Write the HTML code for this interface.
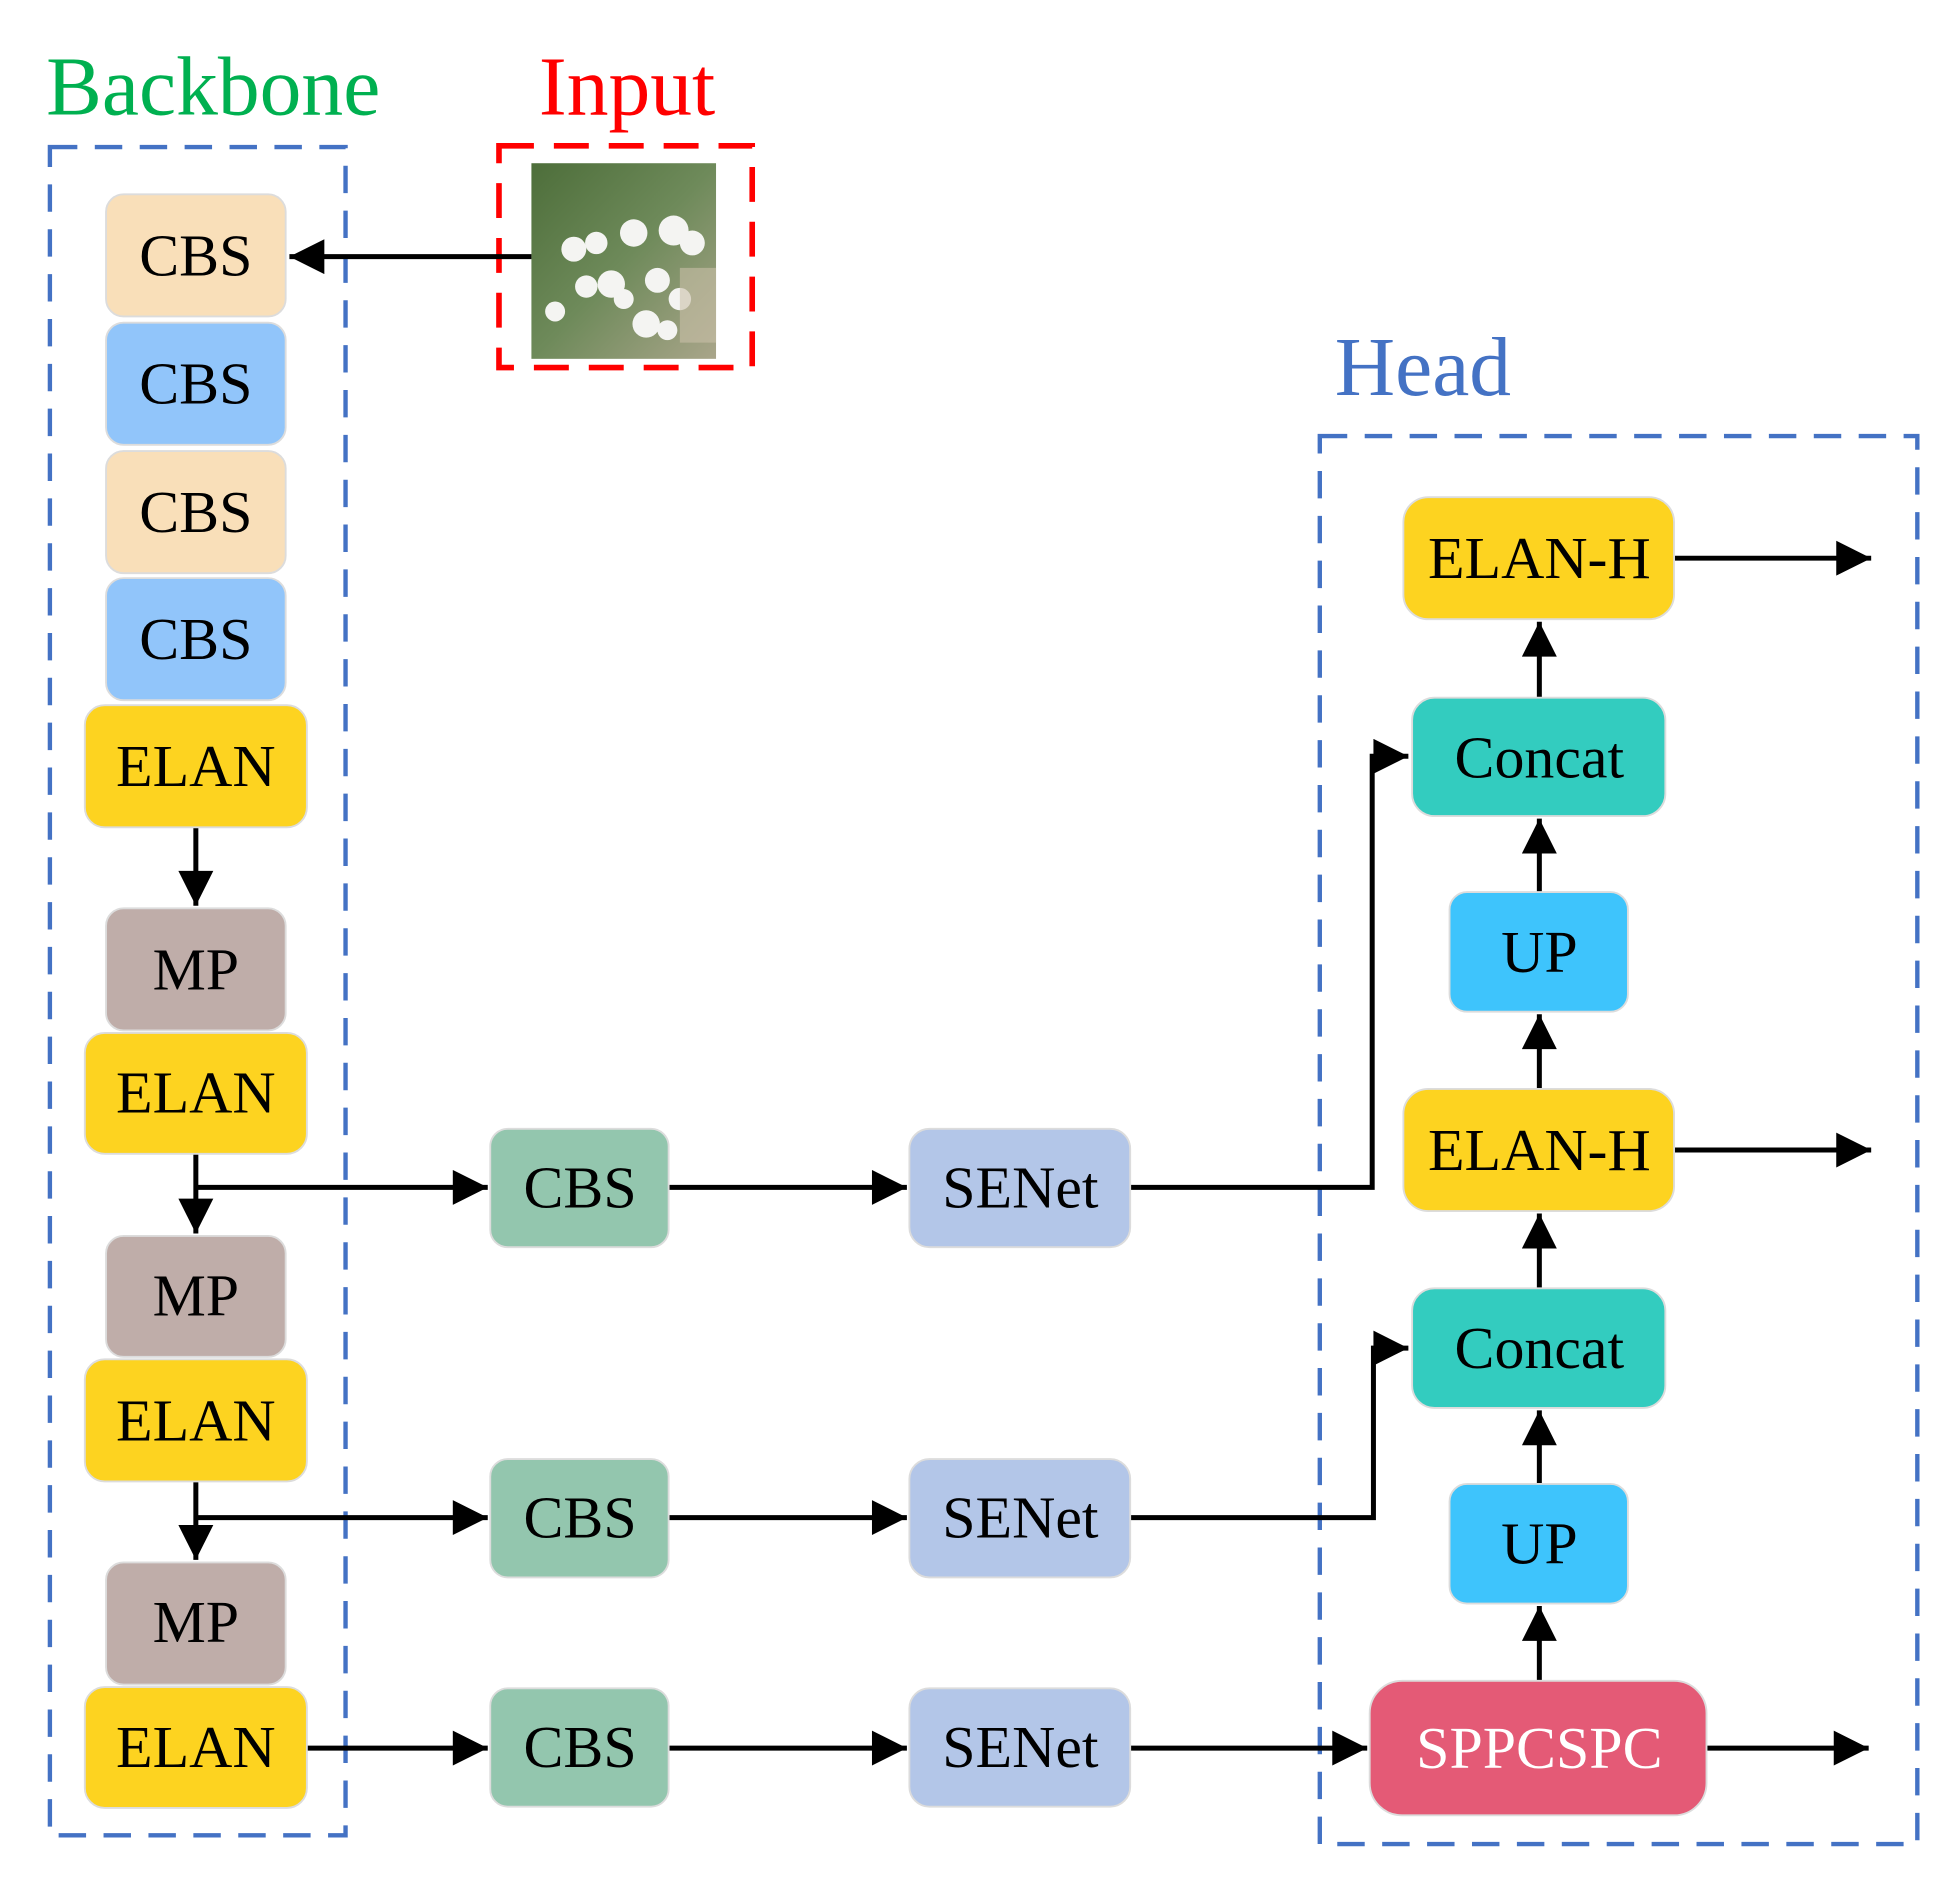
<!DOCTYPE html>
<html><head><meta charset="utf-8"><style>
html,body{margin:0;padding:0;background:#fff;}
svg{display:block;}
text{font-family:"Liberation Serif",serif;}
</style></head><body>
<svg width="1956" height="1887" viewBox="0 0 1568 1514.5" preserveAspectRatio="none" xmlns="http://www.w3.org/2000/svg">
<defs>
<marker id="a" viewBox="0 0 10 10" refX="10" refY="5" markerWidth="7.5" markerHeight="7" markerUnits="strokeWidth" orient="auto"><path d="M0,0 L10,5 L0,10 z" fill="#000"/></marker>
<linearGradient id="g1" x1="0" y1="0" x2="1" y2="1"><stop offset="0" stop-color="#4d6e3a"/><stop offset="0.5" stop-color="#6e8a5a"/><stop offset="1" stop-color="#a9a58a"/></linearGradient>
</defs>

<text x="37" y="92" font-size="67" fill="#00B050">Backbone</text>
<text x="432" y="92" font-size="67" fill="#FF0000">Input</text>
<text x="1070" y="317" font-size="67" fill="#4472C4">Head</text>

<rect x="40" y="118" width="237" height="1355" fill="none" stroke="#4472C4" stroke-width="3.5" stroke-dasharray="22,14"/>
<rect x="1058" y="350" width="479" height="1130" fill="none" stroke="#4472C4" stroke-width="3.5" stroke-dasharray="22,14"/>
<rect x="400" y="117" width="203" height="178" fill="none" stroke="#FF0000" stroke-width="4.5" stroke-dasharray="28,16"/>

<rect x="426" y="131" width="148" height="157" fill="url(#g1)"/>
<g fill="#f4f4f2">
<circle cx="460" cy="200" r="10"/><circle cx="478" cy="195" r="9"/><circle cx="508" cy="187" r="11"/>
<circle cx="540" cy="185" r="12"/><circle cx="555" cy="195" r="10"/><circle cx="470" cy="230" r="9"/>
<circle cx="490" cy="228" r="11"/><circle cx="500" cy="240" r="8"/><circle cx="527" cy="225" r="10"/>
<circle cx="518" cy="260" r="11"/><circle cx="545" cy="240" r="9"/><circle cx="445" cy="250" r="8"/>
<circle cx="535" cy="265" r="8"/>
</g>
<rect x="545" y="215" width="29" height="60" fill="#c9c0a8" opacity="0.6"/>

<g stroke="#000" stroke-width="4" fill="none">
<line x1="426" y1="206" x2="232" y2="206" marker-end="url(#a)"/>
<line x1="157" y1="664" x2="157" y2="727" marker-end="url(#a)"/>
<line x1="157" y1="926" x2="157" y2="990" marker-end="url(#a)"/>
<line x1="157" y1="1189" x2="157" y2="1252" marker-end="url(#a)"/>
<line x1="157" y1="953" x2="391" y2="953" marker-end="url(#a)"/>
<line x1="157" y1="1218" x2="391" y2="1218" marker-end="url(#a)"/>
<line x1="246" y1="1403" x2="391" y2="1403" marker-end="url(#a)"/>
<line x1="536" y1="953" x2="727" y2="953" marker-end="url(#a)"/>
<line x1="536" y1="1218" x2="727" y2="1218" marker-end="url(#a)"/>
<line x1="536" y1="1403" x2="727" y2="1403" marker-end="url(#a)"/>
<polyline points="906,953 1100,953 1100,607 1129,607" marker-end="url(#a)"/>
<polyline points="906,1218 1101,1218 1101,1082 1129,1082" marker-end="url(#a)"/>
<line x1="906" y1="1403" x2="1096" y2="1403" marker-end="url(#a)"/>
<line x1="1234" y1="1349" x2="1234" y2="1289" marker-end="url(#a)"/>
<line x1="1234" y1="1191" x2="1234" y2="1132" marker-end="url(#a)"/>
<line x1="1234" y1="1034" x2="1234" y2="974" marker-end="url(#a)"/>
<line x1="1234" y1="874" x2="1234" y2="814" marker-end="url(#a)"/>
<line x1="1234" y1="716" x2="1234" y2="657" marker-end="url(#a)"/>
<line x1="1234" y1="560" x2="1234" y2="499" marker-end="url(#a)"/>
<line x1="1342" y1="448" x2="1500" y2="448" marker-end="url(#a)"/>
<line x1="1342" y1="923" x2="1500" y2="923" marker-end="url(#a)"/>
<line x1="1368" y1="1403" x2="1498" y2="1403" marker-end="url(#a)"/>
</g>

<g stroke="#dcdcdc" stroke-width="1.5">
<rect x="85" y="156" width="144" height="98" rx="14" fill="#F9DFB9"/>
<rect x="85" y="259" width="144" height="98" rx="14" fill="#91C5FA"/>
<rect x="85" y="362" width="144" height="98" rx="14" fill="#F9DFB9"/>
<rect x="85" y="464" width="144" height="98" rx="14" fill="#91C5FA"/>
<rect x="68" y="566" width="178" height="98" rx="16" fill="#FDD320"/>
<rect x="85" y="729" width="144" height="98" rx="14" fill="#BFADA9"/>
<rect x="68" y="829" width="178" height="97" rx="16" fill="#FDD320"/>
<rect x="85" y="992" width="144" height="97" rx="14" fill="#BFADA9"/>
<rect x="68" y="1091" width="178" height="98" rx="16" fill="#FDD320"/>
<rect x="85" y="1254" width="144" height="98" rx="14" fill="#BFADA9"/>
<rect x="68" y="1354" width="178" height="97" rx="16" fill="#FDD320"/>

<rect x="393" y="906" width="143" height="95" rx="14" fill="#93C6AE"/>
<rect x="393" y="1171" width="143" height="95" rx="14" fill="#93C6AE"/>
<rect x="393" y="1355" width="143" height="95" rx="14" fill="#93C6AE"/>
<rect x="729" y="906" width="177" height="95" rx="16" fill="#B3C6E8"/>
<rect x="729" y="1171" width="177" height="95" rx="16" fill="#B3C6E8"/>
<rect x="729" y="1355" width="177" height="95" rx="16" fill="#B3C6E8"/>

<rect x="1125" y="399" width="217" height="98" rx="20" fill="#FDD320"/>
<rect x="1132" y="560" width="203" height="95" rx="18" fill="#33CCBF"/>
<rect x="1162" y="716" width="143" height="96" rx="14" fill="#3EC4FC"/>
<rect x="1125" y="874" width="217" height="98" rx="20" fill="#FDD320"/>
<rect x="1132" y="1034" width="203" height="96" rx="18" fill="#33CCBF"/>
<rect x="1162" y="1191" width="143" height="96" rx="14" fill="#3EC4FC"/>
<rect x="1098" y="1349" width="270" height="108" rx="26" fill="#E45A76"/>
</g>

<g font-size="48" text-anchor="middle" fill="#000">
<text x="157" y="221">CBS</text>
<text x="157" y="324">CBS</text>
<text x="157" y="427">CBS</text>
<text x="157" y="529">CBS</text>
<text x="157" y="631">ELAN</text>
<text x="157" y="794">MP</text>
<text x="157" y="893">ELAN</text>
<text x="157" y="1056">MP</text>
<text x="157" y="1156">ELAN</text>
<text x="157" y="1318">MP</text>
<text x="157" y="1418">ELAN</text>
<text x="465" y="969">CBS</text>
<text x="465" y="1234">CBS</text>
<text x="465" y="1418">CBS</text>
<text x="818" y="969">SENet</text>
<text x="818" y="1234">SENet</text>
<text x="818" y="1418">SENet</text>
<text x="1234" y="464">ELAN-H</text>
<text x="1234" y="624">Concat</text>
<text x="1234" y="780">UP</text>
<text x="1234" y="939">ELAN-H</text>
<text x="1234" y="1098">Concat</text>
<text x="1234" y="1255">UP</text>
<text x="1234" y="1419" fill="#fff">SPPCSPC</text>
</g>
</svg>
</body></html>
